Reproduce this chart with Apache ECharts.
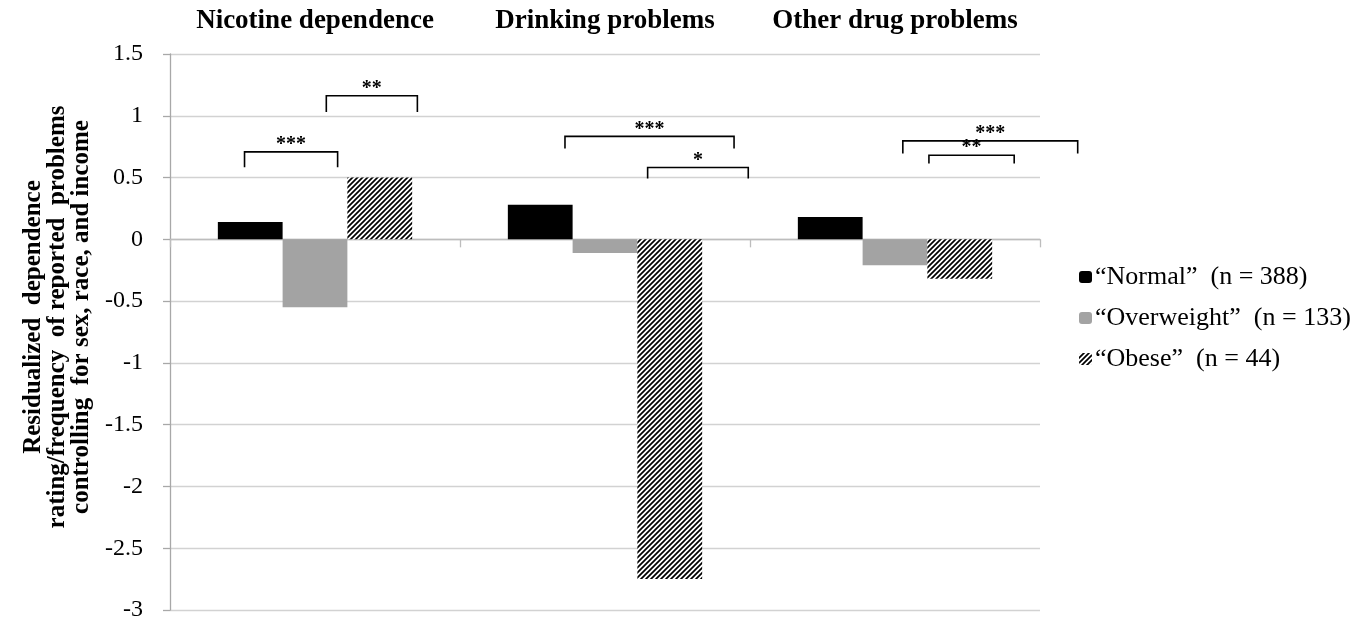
<!DOCTYPE html>
<html>
<head>
<meta charset="utf-8">
<script src="https://cdn.jsdelivr.net/npm/echarts@6/dist/echarts.min.js"></script>
<style>
html,body{margin:0;padding:0;background:#fff;}
#chart{width:1371px;height:624px;}
</style>
</head>
<body>
<div id="chart"></div>
<script>
// ---- data ----
const categories = ['Nicotine dependence', 'Drinking problems', 'Other drug problems'];
const seriesNames = ['\u201CNormal\u201D  (n = 388)', '\u201COverweight\u201D  (n = 133)', '\u201CObese\u201D  (n = 44)'];
const normalValues = [0.14, 0.28, 0.18];
const overweightValues = [-0.55, -0.11, -0.21];
const obeseValues = [0.50, -2.75, -0.32];
const yMin = -3, yMax = 1.5, yStep = 0.5;
// significance brackets: [category index, start (fraction of category width from centre), end, top value, tip value, label]
const brackets = [
  [0, -0.243, 0.078, 0.708, 0.584, '***'],
  [0, 0.039, 0.353, 1.162, 1.030, '**'],
  [1, -0.138, 0.445, 0.833, 0.735, '***'],
  [1, 0.147, 0.494, 0.581, 0.492, '*'],
  [2, 0.027, 0.630, 0.797, 0.695, '***'],
  [2, 0.117, 0.411, 0.681, 0.614, '**']
];

// ---- hatch pattern ----
const pc = document.createElement('canvas');
pc.width = 5; pc.height = 5;
const ctx = pc.getContext('2d');
ctx.fillStyle = '#fff';
ctx.fillRect(0, 0, 5, 5);
ctx.strokeStyle = '#000';
ctx.lineWidth = 1.7;
ctx.beginPath();
ctx.moveTo(-1, 6); ctx.lineTo(6, -1);
ctx.moveTo(-1, 1); ctx.lineTo(1, -1);
ctx.moveTo(4, 6); ctx.lineTo(6, 4);
ctx.stroke();

const FONT = 'Liberation Serif';
const chart = echarts.init(document.getElementById('chart'));

chart.setOption({
  backgroundColor: '#fff',
  animation: false,
  textStyle: { fontFamily: FONT },
  grid: { left: 170, right: 331, top: 54, bottom: 14, containLabel: false },
  legend: {
    orient: 'vertical',
    left: 1074,
    top: 259,
    itemWidth: 13,
    itemHeight: 12,
    itemGap: 15,
    data: seriesNames,
    textStyle: { fontFamily: FONT, fontSize: 26, color: '#000', padding: [0, 0, 0, -2] }
  },
  xAxis: [
    {
      type: 'category',
      data: categories,
      position: 'bottom',
      axisLine: { onZero: true, lineStyle: { color: '#bdbdbd', width: 1.3 } },
      axisTick: { show: true, length: 8, lineStyle: { color: '#bdbdbd', width: 1.3 } },
      axisLabel: { show: false },
      splitLine: { show: false }
    },
    {
      type: 'category',
      data: categories,
      position: 'top',
      axisLine: { show: false },
      axisTick: { show: false },
      axisLabel: { show: true, interval: 0, margin: 19, fontFamily: FONT, fontSize: 27, fontWeight: 'bold', color: '#000' },
      splitLine: { show: false }
    }
  ],
  yAxis: {
    type: 'value',
    min: yMin,
    max: yMax,
    interval: yStep,
    name: 'Residualized  dependence\nrating/frequency  of reported  problems\ncontrolling  for sex, race, and income',
    nameLocation: 'middle',
    nameGap: 60,
    nameTextStyle: { fontFamily: FONT, fontSize: 25, fontWeight: 'bold', color: '#000', lineHeight: 24, padding: [0, 0, 0, 30] },
    axisLine: { show: true, lineStyle: { color: '#a8a8a8', width: 1.3 } },
    axisTick: { show: true, length: 7, lineStyle: { color: '#a8a8a8', width: 1.3 } },
    axisLabel: { margin: 27, fontFamily: FONT, fontSize: 24, color: '#000' },
    splitLine: { show: true, lineStyle: { color: '#d2d2d2', width: 1.3 } }
  },
  series: [
    { name: seriesNames[0], type: 'bar', data: normalValues, barGap: '0%', barCategoryGap: '33%', itemStyle: { color: '#000' } },
    { name: seriesNames[1], type: 'bar', data: overweightValues, barGap: '0%', barCategoryGap: '33%', itemStyle: { color: '#a3a3a3' } },
    { name: seriesNames[2], type: 'bar', data: obeseValues, barGap: '0%', barCategoryGap: '33%', itemStyle: { color: { image: pc, repeat: 'repeat' } } },
    {
      type: 'custom',
      clip: false,
      silent: true,
      z: 10,
      data: brackets.map(b => [b[0], b[1], b[2], b[3], b[4]]),
      renderItem: function (params, api) {
        const b = brackets[params.dataIndex];
        const centre = api.coord([b[0], b[3]]);
        const w = api.size([1, 0])[0];
        const tip = api.coord([b[0], b[4]]);
        const x1 = centre[0] + b[1] * w;
        const x2 = centre[0] + b[2] * w;
        const yT = centre[1];
        const yB = tip[1];
        return {
          type: 'group',
          children: [
            {
              type: 'polyline',
              shape: { points: [[x1, yB], [x1, yT], [x2, yT], [x2, yB]] },
              style: { stroke: '#000', lineWidth: 1.6, fill: null }
            },
            {
              type: 'text',
              style: {
                text: b[5],
                x: (x1 + x2) / 2,
                y: yT + 3,
                textAlign: 'center',
                textVerticalAlign: 'bottom',
                fontFamily: FONT,
                fontWeight: 'bold',
                fontSize: 20,
                fill: '#000'
              }
            }
          ]
        };
      }
    }
  ]
});
</script>
</body>
</html>
